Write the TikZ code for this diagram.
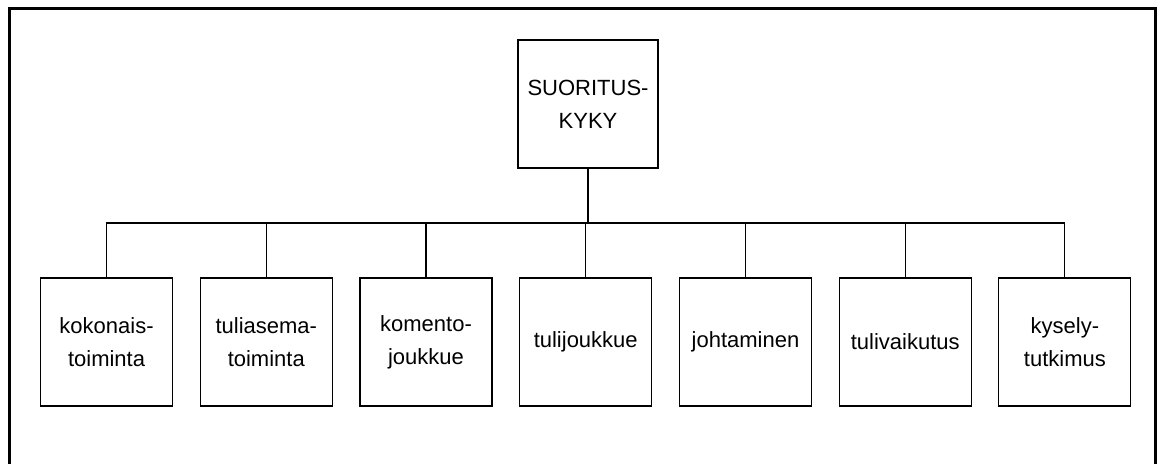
\documentclass[tikz,border=0pt]{standalone}
\usepackage{fontspec}
\setmainfont{Liberation Sans}
\usetikzlibrary{positioning}

\tikzstyle{topbox} = [rectangle, minimum width=105pt, minimum height=96pt, inner sep=0pt, align=center, draw=black, line width=0.8pt, font=\fontsize{16.5}{24.75}\selectfont]
\tikzstyle{factor} = [rectangle, minimum width=99pt, minimum height=96pt, inner sep=0pt, align=center, draw=black, line width=0.8pt, font=\fontsize{16.5}{24.75}\selectfont]
\tikzstyle{link} = [line width=0.8pt]
\tikzstyle{frame} = [line width=2.25pt]

\begin{document}
\begin{tikzpicture}[node distance=20pt]

    \useasboundingbox (0,0) rectangle (870pt,348pt);
    \draw [frame] (6.75pt,-5pt) -- (6.75pt,341.25pt) -- (866.6pt,341.25pt) -- (866.6pt,-5pt);

    \node (kyky) [topbox] at (441pt,270pt) {SUORITUS-\\KYKY};
    \coordinate (bus) at (0,180.75pt);

    \node (kokonais) [factor] at (79.9pt,91.5pt) {kokonais-\\toiminta};
    \node (tuliasema) [factor, right=of kokonais] {tuliasema-\\toiminta};
    \node (komento) [factor, right=of tuliasema] {komento-\\joukkue};
    \node (tulijoukkue) [factor, right=of komento] {tulijoukkue};
    \node (johtaminen) [factor, right=of tulijoukkue] {johtaminen};
    \node (tulivaikutus) [factor, right=of johtaminen] {tulivaikutus};
    \node (kysely) [factor, right=of tulivaikutus] {kysely-\\tutkimus};

    \draw [link] (kyky.south) -- (kyky |- bus);
    \draw [link] (kokonais.north) -- (kokonais |- bus) -- (kysely |- bus) -- (kysely.north);
    \draw [link] (tuliasema.north) -- (tuliasema |- bus);
    \draw [link] (komento.north) -- (komento |- bus);
    \draw [link] (tulijoukkue.north) -- (tulijoukkue |- bus);
    \draw [link] (johtaminen.north) -- (johtaminen |- bus);
    \draw [link] (tulivaikutus.north) -- (tulivaikutus |- bus);

\end{tikzpicture}
\end{document}
